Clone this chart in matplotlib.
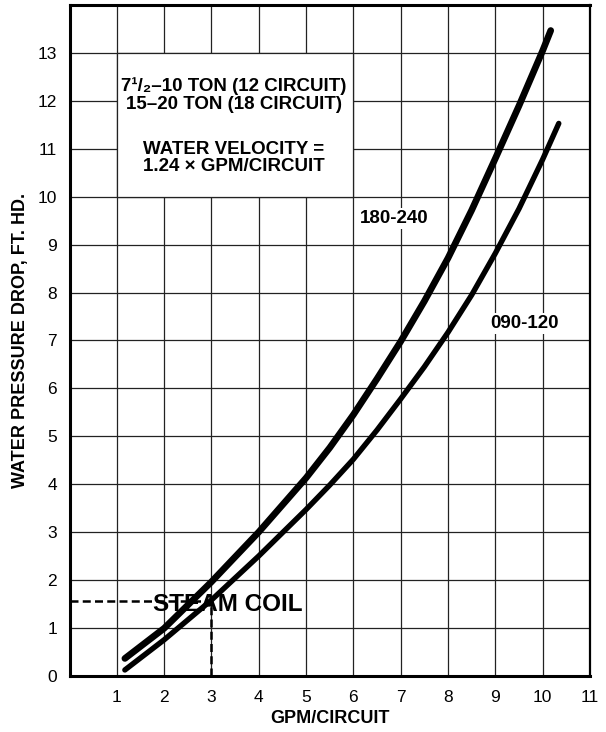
import matplotlib

matplotlib.use("Agg")
import matplotlib.pyplot as plt
from matplotlib.patches import Rectangle

plt.rcParams["font.family"] = ["Liberation Sans", "DejaVu Sans"]

# pressure drop curves (ft. hd.) against gpm per circuit
gpm_180_240 = [1.17, 2, 3, 4, 5, 5.5, 6, 6.5, 7, 7.5, 8, 8.5, 9, 9.5, 10, 10.17]
drop_180_240 = [0.36, 0.99, 1.96, 3.0, 4.13, 4.76, 5.45, 6.2, 6.98, 7.82,
                8.72, 9.72, 10.8, 11.9, 13.05, 13.47]

gpm_090_120 = [1.17, 2, 3, 4, 5, 5.5, 6, 6.5, 7, 7.5, 8, 8.5, 9, 9.5, 10, 10.34]
drop_090_120 = [0.12, 0.75, 1.58, 2.5, 3.47, 3.98, 4.52, 5.13, 5.78, 6.45,
                7.17, 7.95, 8.82, 9.75, 10.78, 11.53]

# steam coil operating point
steam_gpm = 3.0
steam_drop = 1.55

x_ticks = list(range(1, 12))
y_ticks = list(range(0, 14))

unit_lines = ["7\u00b9/\u2082\u201310 TON (12 CIRCUIT)", "15\u201320 TON (18 CIRCUIT)"]
velocity_lines = ["WATER VELOCITY =", "1.24 \u00d7 GPM/CIRCUIT"]

fig = plt.figure(figsize=(6.06, 7.32), dpi=100)
ax = fig.add_axes([0.1147, 0.0769, 0.8589, 0.9161])

ax.set_xlim(0, 11)
ax.set_ylim(0, 14)
ax.set_xticks(x_ticks)
ax.set_yticks(y_ticks)
ax.tick_params(length=0, labelsize=12.5)
ax.tick_params(axis="x", pad=10)
ax.tick_params(axis="y", pad=9)
ax.grid(True, color="#222222", lw=0.9)
ax.set_axisbelow(True)
for side in ["left", "bottom", "top"]:
    ax.spines[side].set_linewidth(2.2)
ax.spines["right"].set_linewidth(1.6)

# blank panel behind the unit note
ax.add_patch(Rectangle((1, 10), 5, 3, facecolor="white", edgecolor="#222222",
                       lw=0.9, zorder=1.5))
ax.text(3.47, 12.12, "\n".join(unit_lines), ha="center", va="center",
        fontsize=13.5, fontweight="bold", linespacing=1.05, zorder=3)
ax.text(3.47, 10.8, "\n".join(velocity_lines), ha="center", va="center",
        fontsize=13.5, fontweight="bold", linespacing=1.0, zorder=3)

ax.plot(gpm_180_240, drop_180_240, color="black", lw=4.8,
        solid_capstyle="round", solid_joinstyle="round", zorder=4)
ax.plot(gpm_090_120, drop_090_120, color="black", lw=3.9,
        solid_capstyle="round", solid_joinstyle="round", zorder=4)

ax.plot([0, steam_gpm], [steam_drop, steam_drop], color="black", lw=1.8,
        dashes=(3.2, 1.7), zorder=3)
ax.plot([steam_gpm, steam_gpm], [0, steam_drop], color="black", lw=1.8,
        dashes=(3.2, 1.7), zorder=3)
ax.text(1.76, 1.48, "STEAM COIL", ha="left", va="center",
        fontsize=17.5, fontweight="bold", zorder=5)

label_box = dict(facecolor="white", edgecolor="none", pad=1.5)
ax.text(6.86, 9.55, "180-240", ha="center", va="center", fontsize=13.5,
        fontweight="bold", bbox=label_box, zorder=3)
ax.text(9.61, 7.36, "090-120", ha="center", va="center", fontsize=13.5,
        fontweight="bold", bbox=label_box, zorder=3)

ax.set_xlabel("GPM/CIRCUIT", fontsize=13, fontweight="bold", labelpad=4)
ax.set_ylabel("WATER PRESSURE DROP, FT. HD.", fontsize=13, fontweight="bold",
              labelpad=6)

fig.savefig("out.png", dpi=100)
